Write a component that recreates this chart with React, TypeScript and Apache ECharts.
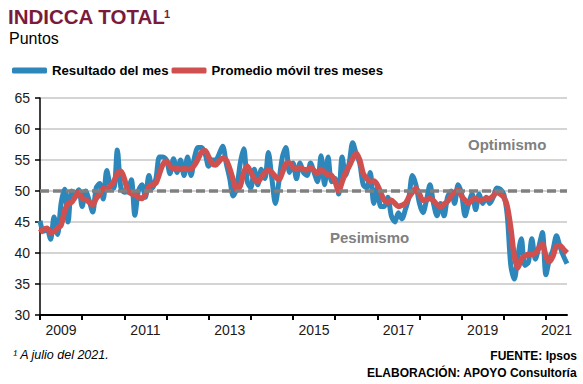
import React, { useEffect, useRef } from "react";
import * as echarts from "echarts";

// Monthly categories: Jan 2009 – Jul 2021
const months: string[] = [];
for (let y = 2009; y <= 2021; y++) {
  for (let m = 1; m <= 12; m++) {
    if (y === 2021 && m > 7) break;
    months.push(`${y}-${String(m).padStart(2, "0")}`);
  }
}

// Resultado del mes (blue)
const resultadoMes = [
  45.2, 43.5, 43.8, 42.2, 45.8, 43.0, 48.0, 50.3, 45.0, 50.0, 49.5, 50.2, // 2009
  47.5, 50.0, 48.5, 46.6, 50.5, 51.2, 48.7, 53.3, 51.0, 50.5, 56.6, 50.6, // 2010
  49.8, 50.0, 51.8, 46.1, 50.0, 51.0, 49.0, 52.5, 50.5, 52.0, 55.5, 55.5, // 2011
  55.0, 52.8, 55.2, 53.0, 55.0, 52.5, 55.5, 52.5, 55.5, 57.0, 57.0, 56.0, // 2012
  54.0, 55.0, 55.0, 56.0, 57.2, 54.5, 52.0, 49.2, 50.5, 54.5, 56.8, 51.5, // 2013
  50.5, 53.5, 51.0, 53.5, 52.0, 56.2, 52.0, 48.0, 51.5, 55.5, 57.0, 53.0, // 2014
  54.5, 52.0, 54.5, 53.0, 52.5, 54.5, 53.0, 51.5, 55.7, 51.0, 55.5, 51.5, // 2015
  52.0, 49.5, 55.5, 52.5, 54.5, 57.8, 56.0, 54.5, 51.0, 50.5, 53.0, 48.0, // 2016
  50.5, 47.5, 47.5, 49.0, 46.0, 45.0, 46.5, 45.5, 47.0, 49.0, 52.5, 51.0, // 2017
  48.0, 46.5, 48.5, 51.0, 48.0, 46.0, 48.0, 46.0, 49.0, 50.0, 48.0, 51.0, // 2018
  49.5, 46.0, 48.0, 49.5, 47.0, 49.5, 48.0, 49.0, 48.0, 49.0, 50.5, 50.3, // 2019
  49.5, 46.0, 38.0, 35.8, 39.5, 42.3, 38.0, 38.5, 42.3, 39.0, 41.0, 43.3, // 2020
  36.5, 39.0, 40.5, 42.8, 41.0, 39.5, 38.3, // 2021
];

// Promedio móvil tres meses (red)
const promedioMovil = [
  43.3, 43.8, 44.0, 43.3, 43.5, 44.0, 44.5, 46.8, 48.0, 48.2, 49.0, 49.8, // 2009
  48.8, 48.6, 48.2, 47.8, 48.8, 49.5, 50.4, 50.2, 50.8, 51.5, 52.8, 53.2, // 2010
  52.0, 50.0, 49.6, 49.4, 49.0, 48.8, 49.5, 50.7, 51.0, 51.3, 52.8, 54.3, // 2011
  54.8, 54.0, 53.6, 53.6, 53.5, 53.6, 53.5, 53.6, 54.2, 55.2, 56.3, 56.5, // 2012
  55.5, 54.4, 54.2, 54.8, 55.3, 55.0, 53.6, 51.8, 50.2, 50.8, 53.0, 54.0, // 2013
  53.0, 52.0, 51.5, 52.2, 53.0, 53.4, 53.0, 52.3, 51.8, 53.0, 54.4, 54.5, // 2014
  53.8, 53.5, 53.8, 53.5, 53.4, 53.8, 53.3, 52.8, 53.5, 53.0, 52.6, 52.5, // 2015
  51.5, 50.0, 51.5, 53.0, 54.0, 55.2, 56.1, 55.0, 52.8, 52.0, 51.5, 51.6, // 2016
  51.0, 49.7, 48.5, 48.2, 48.5, 48.0, 47.5, 47.7, 48.0, 49.0, 49.8, 50.4, // 2017
  49.5, 48.5, 48.6, 48.8, 48.4, 47.8, 47.4, 47.9, 48.3, 49.2, 49.8, 50.2, // 2018
  49.2, 48.5, 48.0, 48.6, 48.8, 48.5, 48.6, 48.8, 48.8, 49.2, 49.8, 49.5, // 2019
  49.0, 47.5, 44.0, 39.5, 37.6, 39.0, 39.5, 39.8, 39.8, 40.0, 40.8, 41.4, // 2020
  39.5, 38.6, 39.5, 41.1, 41.2, 40.6, 40.0, // 2021
];

const umbral = 50;
const yMin = 30;
const yMax = 65;
const yStep = 5;
const labelledYears = ["2009", "2011", "2013", "2015", "2017", "2019", "2021"];

const FONT = '"Liberation Sans", Arial, sans-serif';
const BLUE = "#2e87ba";
const RED = "#d0504f";
const GRAY = "#808080";

export default function App() {
  const ref = useRef<HTMLDivElement>(null);

  useEffect(() => {
    if (!ref.current) return;
    const chart = echarts.init(ref.current, undefined, { renderer: "svg" });
    const lastIdx = months.length - 1;
    const labelIdx = (i: number) => {
      const yr = months[i].slice(0, 4);
      if (!labelledYears.includes(yr)) return false;
      if (yr === "2021") return i === lastIdx - 3;
      return months[i].slice(5) === "07";
    };

    chart.setOption({
      animation: false,
      backgroundColor: "#ffffff",
      textStyle: { fontFamily: FONT },
      grid: { left: 40, right: 16, top: 98, bottom: 69, containLabel: false },
      legend: {
        left: 7,
        top: 59,
        itemWidth: 35,
        itemHeight: 6,
        itemGap: 3,
        icon: "roundRect",
        textStyle: { fontFamily: FONT, fontSize: 13.2, fontWeight: "bold", color: "#000" },
        data: ["Resultado del mes", "Promedio móvil tres meses"],
      },
      xAxis: {
        type: "category",
        data: months,
        boundaryGap: false,
        axisLine: { lineStyle: { color: "#000", width: 2 } },
        axisTick: {
          show: true,
          length: 5,
          lineStyle: { color: "#000", width: 2 },
          interval: (i: number) => i % 12 === 0,
        },
        axisLabel: {
          interval: (i: number) => labelIdx(i),
          formatter: (v: string) => v.slice(0, 4),
          color: "#1a1a1a",
          fontSize: 14,
          fontFamily: FONT,
          margin: 8,
        },
        splitLine: { show: false },
      },
      yAxis: {
        type: "value",
        min: yMin,
        max: yMax,
        interval: yStep,
        axisLine: { show: true, lineStyle: { color: "#000", width: 1.5 } },
        axisTick: { show: true, length: 5, lineStyle: { color: "#000", width: 1.5 } },
        axisLabel: { color: "#1a1a1a", fontSize: 14, fontFamily: FONT, margin: 10 },
        splitLine: { show: true, lineStyle: { color: "#c6c6c6", width: 1.5 } },
      },
      series: [
        {
          name: "Resultado del mes",
          type: "line",
          data: resultadoMes,
          smooth: 0.3,
          showSymbol: false,
          symbol: "none",
          itemStyle: { color: BLUE },
          lineStyle: { color: BLUE, width: 5 },
          z: 2,
        },
        {
          name: "Promedio móvil tres meses",
          type: "line",
          data: promedioMovil,
          smooth: 0.3,
          showSymbol: false,
          symbol: "none",
          itemStyle: { color: RED },
          lineStyle: { color: RED, width: 5.5 },
          z: 3,
          markLine: {
            silent: true,
            symbol: "none",
            label: { show: false },
            lineStyle: { color: GRAY, width: 3.5, type: [9, 4] },
            data: [{ yAxis: umbral }],
          },
        },
      ],
      graphic: [
        {
          type: "text",
          left: 8,
          top: 6,
          style: { text: "INDICCA TOTAL", font: `bold 20.5px ${FONT}`, fill: "#7a1b3d" },
        },
        {
          type: "text",
          left: 164,
          top: 8,
          style: { text: "1", font: `bold 11px ${FONT}`, fill: "#7a1b3d" },
        },
        {
          type: "text",
          left: 9,
          top: 30,
          style: { text: "Puntos", font: `16px ${FONT}`, fill: "#000" },
        },
        {
          type: "text",
          left: 468,
          top: 137,
          style: { text: "Optimismo", font: `bold 15px ${FONT}`, fill: GRAY },
        },
        {
          type: "text",
          left: 330,
          top: 230,
          style: { text: "Pesimismo", font: `bold 15px ${FONT}`, fill: GRAY },
        },
        {
          type: "text",
          left: 13,
          top: 348,
          style: { text: "¹ A julio del 2021.", font: `italic 12.5px ${FONT}`, fill: "#000" },
        },
        {
          type: "text",
          right: 6,
          top: 350,
          style: { text: "FUENTE: Ipsos", font: `bold 12px ${FONT}`, fill: "#000", align: "right" },
        },
        {
          type: "text",
          right: 6,
          top: 367,
          style: { text: "ELABORACIÓN: APOYO Consultoría", font: `bold 12px ${FONT}`, fill: "#000", align: "right" },
        },
      ],
    });

    return () => chart.dispose();
  }, []);

  return (
    <div
      ref={ref}
      style={{ position: "fixed", left: 0, top: 0, width: 583, height: 384, background: "#fff" }}
    />
  );
}
